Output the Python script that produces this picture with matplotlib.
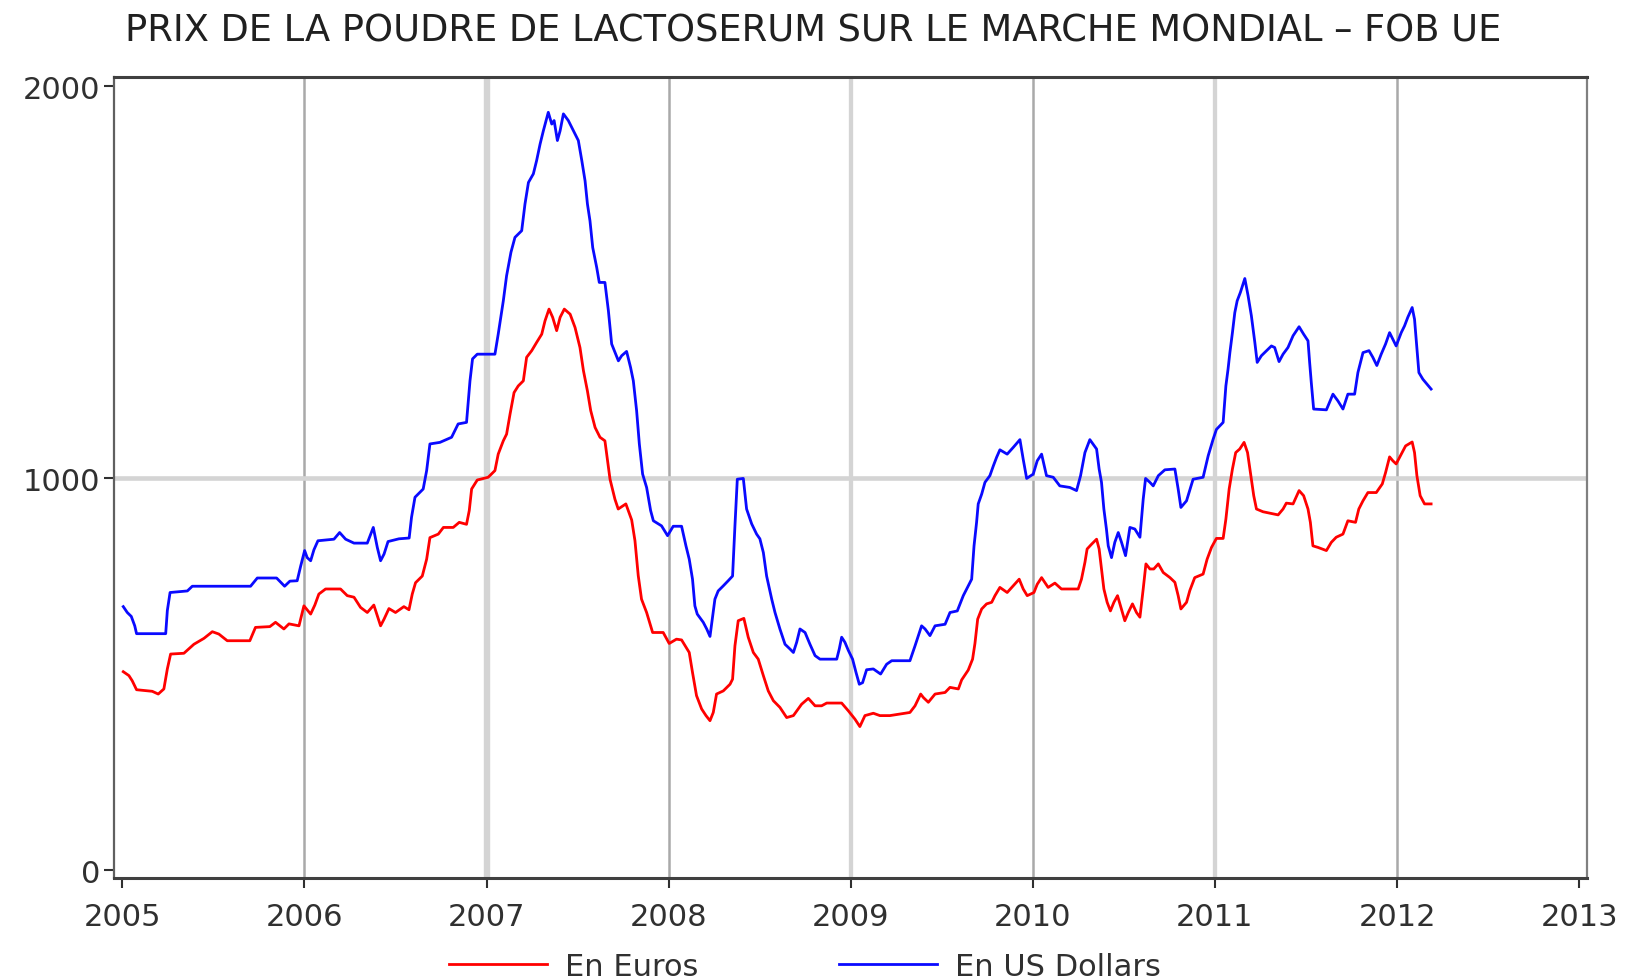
import matplotlib
matplotlib.use("Agg")
import matplotlib.pyplot as plt

# Prix de la poudre de lactoserum, FOB UE (lecture du graphique)
dollars_t = [
    2005.005, 2005.027, 2005.049, 2005.068, 2005.078, 2005.238, 2005.247, 2005.262, 2005.357, 2005.384,
    2005.704, 2005.741, 2005.847, 2005.891, 2005.920, 2005.960, 2005.979, 2006.001, 2006.015, 2006.034,
    2006.052, 2006.074, 2006.162, 2006.193, 2006.226, 2006.272, 2006.345, 2006.378, 2006.400, 2006.418,
    2006.437, 2006.459, 2006.519, 2006.575, 2006.588, 2006.607, 2006.652, 2006.671, 2006.689, 2006.744,
    2006.808, 2006.844, 2006.890, 2006.909, 2006.923, 2006.949, 2007.046, 2007.064, 2007.092, 2007.110,
    2007.134, 2007.156, 2007.193, 2007.211, 2007.230, 2007.257, 2007.275, 2007.294, 2007.312, 2007.339,
    2007.358, 2007.371, 2007.389, 2007.404, 2007.422, 2007.449, 2007.477, 2007.504, 2007.523, 2007.541,
    2007.554, 2007.568, 2007.583, 2007.605, 2007.619, 2007.650, 2007.669, 2007.687, 2007.705, 2007.724,
    2007.742, 2007.769, 2007.791, 2007.806, 2007.824, 2007.839, 2007.857, 2007.879, 2007.901, 2007.916,
    2007.961, 2007.994, 2008.025, 2008.071, 2008.095, 2008.113, 2008.131, 2008.144, 2008.157, 2008.190,
    2008.209, 2008.227, 2008.254, 2008.272, 2008.300, 2008.327, 2008.351, 2008.364, 2008.377, 2008.410,
    2008.428, 2008.456, 2008.483, 2008.501, 2008.520, 2008.538, 2008.566, 2008.584, 2008.611, 2008.639,
    2008.666, 2008.685, 2008.703, 2008.721, 2008.749, 2008.776, 2008.804, 2008.831, 2008.923, 2008.937,
    2008.950, 2008.968, 2008.987, 2009.010, 2009.029, 2009.047, 2009.065, 2009.087, 2009.124, 2009.164,
    2009.197, 2009.225, 2009.325, 2009.353, 2009.389, 2009.408, 2009.435, 2009.463, 2009.518, 2009.545,
    2009.585, 2009.618, 2009.645, 2009.664, 2009.677, 2009.691, 2009.700, 2009.719, 2009.737, 2009.764,
    2009.783, 2009.801, 2009.819, 2009.859, 2009.892, 2009.929, 2009.947, 2009.966, 2010.002, 2010.024,
    2010.048, 2010.075, 2010.112, 2010.148, 2010.203, 2010.240, 2010.262, 2010.286, 2010.313, 2010.350,
    2010.364, 2010.377, 2010.390, 2010.404, 2010.414, 2010.432, 2010.450, 2010.469, 2010.487, 2010.509,
    2010.533, 2010.560, 2010.588, 2010.606, 2010.619, 2010.643, 2010.661, 2010.689, 2010.725, 2010.780,
    2010.798, 2010.813, 2010.844, 2010.880, 2010.935, 2010.963, 2010.990, 2011.008, 2011.045, 2011.060,
    2011.072, 2011.082, 2011.096, 2011.109, 2011.122, 2011.140, 2011.164, 2011.182, 2011.200, 2011.219,
    2011.232, 2011.255, 2011.310, 2011.328, 2011.352, 2011.374, 2011.401, 2011.429, 2011.462, 2011.487,
    2011.511, 2011.520, 2011.529, 2011.542, 2011.612, 2011.648, 2011.675, 2011.703, 2011.730, 2011.767,
    2011.785, 2011.813, 2011.846, 2011.867, 2011.889, 2011.913, 2011.937, 2011.959, 2011.995, 2012.023,
    2012.041, 2012.059, 2012.083, 2012.096, 2012.105, 2012.120, 2012.142, 2012.187,
]
dollars_v = [
    672, 657, 647, 623, 603, 603, 662, 708, 712, 724,
    724, 745, 745, 724, 737, 738, 775, 815, 797, 789,
    817, 840, 844, 861, 844, 834, 834, 874, 823, 789,
    806, 838, 845, 847, 900, 951, 972, 1019, 1087, 1091,
    1104, 1138, 1142, 1248, 1304, 1316, 1316, 1367, 1452, 1516,
    1576, 1614, 1631, 1699, 1754, 1776, 1810, 1852, 1886, 1933,
    1903, 1912, 1861, 1886, 1929, 1912, 1886, 1861, 1810, 1758,
    1699, 1656, 1588, 1537, 1499, 1499, 1427, 1342, 1321, 1299,
    1312, 1323, 1282, 1248, 1172, 1087, 1010, 976, 917, 891,
    878, 853, 877, 877, 827, 793, 742, 674, 653, 632,
    615, 596, 691, 712, 725, 738, 750, 878, 997, 999,
    921, 883, 857, 845, 810, 750, 691, 657, 615, 576,
    564, 555, 581, 615, 606, 576, 547, 538, 538, 564,
    594, 581, 560, 538, 504, 474, 478, 511, 513, 500,
    525, 534, 534, 572, 623, 615, 598, 623, 627, 657,
    661, 700, 725, 742, 827, 887, 934, 959, 989, 1006,
    1031, 1053, 1072, 1061, 1078, 1098, 1048, 999, 1010, 1044,
    1061, 1006, 1002, 980, 976, 968, 1006, 1065, 1098, 1074,
    1023, 989, 921, 870, 827, 797, 836, 861, 836, 802,
    874, 870, 849, 946, 999, 989, 980, 1006, 1021, 1023,
    972, 925, 942, 997, 1002, 1057, 1099, 1124, 1142, 1235,
    1278, 1320, 1371, 1422, 1452, 1474, 1509, 1465, 1414, 1346,
    1295, 1312, 1337, 1333, 1297, 1316, 1333, 1363, 1386, 1367,
    1350, 1295, 1244, 1176, 1174, 1214, 1197, 1176, 1214, 1214,
    1269, 1320, 1325, 1308, 1287, 1316, 1342, 1371, 1337, 1371,
    1388, 1410, 1435, 1405, 1354, 1269, 1252, 1227,
]

euros_t = [
    2005.005, 2005.036, 2005.054, 2005.078, 2005.164, 2005.197, 2005.228, 2005.247, 2005.265, 2005.338,
    2005.393, 2005.448, 2005.494, 2005.530, 2005.576, 2005.700, 2005.731, 2005.810, 2005.841, 2005.887,
    2005.915, 2005.970, 2005.997, 2006.034, 2006.057, 2006.079, 2006.116, 2006.198, 2006.235, 2006.272,
    2006.308, 2006.345, 2006.381, 2006.418, 2006.437, 2006.464, 2006.500, 2006.546, 2006.574, 2006.592,
    2006.610, 2006.647, 2006.671, 2006.689, 2006.735, 2006.763, 2006.817, 2006.850, 2006.890, 2006.905,
    2006.918, 2006.949, 2007.009, 2007.046, 2007.064, 2007.092, 2007.110, 2007.129, 2007.151, 2007.174,
    2007.202, 2007.220, 2007.248, 2007.275, 2007.303, 2007.321, 2007.343, 2007.363, 2007.385, 2007.404,
    2007.427, 2007.459, 2007.486, 2007.513, 2007.532, 2007.554, 2007.572, 2007.596, 2007.623, 2007.650,
    2007.678, 2007.705, 2007.723, 2007.765, 2007.797, 2007.815, 2007.833, 2007.851, 2007.879, 2007.912,
    2007.970, 2008.003, 2008.043, 2008.071, 2008.113, 2008.131, 2008.153, 2008.181, 2008.205, 2008.227,
    2008.245, 2008.263, 2008.300, 2008.337, 2008.351, 2008.364, 2008.382, 2008.413, 2008.437, 2008.465,
    2008.492, 2008.520, 2008.547, 2008.575, 2008.611, 2008.648, 2008.685, 2008.730, 2008.767, 2008.804,
    2008.840, 2008.868, 2008.950, 2008.987, 2009.023, 2009.050, 2009.078, 2009.124, 2009.160, 2009.215,
    2009.325, 2009.353, 2009.384, 2009.399, 2009.426, 2009.463, 2009.518, 2009.545, 2009.591, 2009.609,
    2009.645, 2009.669, 2009.682, 2009.697, 2009.719, 2009.746, 2009.774, 2009.792, 2009.819, 2009.859,
    2009.892, 2009.925, 2009.947, 2009.969, 2010.006, 2010.024, 2010.048, 2010.084, 2010.121, 2010.157,
    2010.249, 2010.267, 2010.286, 2010.298, 2010.322, 2010.350, 2010.364, 2010.377, 2010.390, 2010.408,
    2010.426, 2010.445, 2010.465, 2010.481, 2010.505, 2010.524, 2010.547, 2010.569, 2010.588, 2010.606,
    2010.621, 2010.643, 2010.664, 2010.689, 2010.716, 2010.753, 2010.780, 2010.798, 2010.813, 2010.844,
    2010.862, 2010.889, 2010.935, 2010.957, 2010.981, 2011.008, 2011.045, 2011.060, 2011.078, 2011.096,
    2011.114, 2011.136, 2011.160, 2011.179, 2011.195, 2011.213, 2011.228, 2011.264, 2011.347, 2011.374,
    2011.392, 2011.429, 2011.462, 2011.487, 2011.511, 2011.524, 2011.538, 2011.566, 2011.612, 2011.639,
    2011.666, 2011.703, 2011.730, 2011.772, 2011.790, 2011.813, 2011.840, 2011.886, 2011.919, 2011.937,
    2011.959, 2011.977, 2011.995, 2012.023, 2012.047, 2012.083, 2012.096, 2012.109, 2012.127, 2012.151,
    2012.187,
]
euros_v = [
    506, 496, 483, 460, 456, 449, 462, 513, 551, 553,
    576, 591, 608, 602, 585, 585, 619, 621, 632, 615,
    628, 623, 674, 653, 676, 704, 717, 717, 700, 696,
    670, 657, 676, 623, 640, 667, 657, 672, 664, 704,
    733, 750, 793, 848, 857, 874, 874, 887, 882, 917,
    972, 995, 1002, 1019, 1061, 1095, 1112, 1163, 1218, 1235,
    1248, 1308, 1325, 1346, 1367, 1401, 1431, 1410, 1376, 1410,
    1431, 1418, 1384, 1333, 1274, 1222, 1172, 1129, 1104, 1095,
    997, 946, 921, 934, 893, 840, 751, 691, 657, 606,
    606, 578, 589, 587, 555, 504, 445, 411, 394, 381,
    402, 449, 457, 474, 487, 572, 636, 642, 594, 555,
    538, 496, 457, 432, 415, 389, 394, 423, 438, 419,
    419, 426, 426, 406, 385, 366, 394, 400, 394, 394,
    402, 419, 449, 440, 428, 449, 453, 466, 462, 485,
    510, 538, 578, 640, 666, 679, 683, 700, 721, 708,
    725, 742, 717, 700, 708, 729, 746, 721, 732, 717,
    717, 742, 785, 819, 831, 844, 819, 768, 717, 683,
    661, 683, 700, 674, 636, 657, 679, 657, 645, 717,
    781, 768, 768, 781, 759, 746, 734, 700, 666, 683,
    713, 746, 755, 793, 823, 846, 846, 895, 972, 1023,
    1065, 1074, 1091, 1065, 1014, 955, 921, 914, 906, 921,
    936, 934, 968, 955, 921, 887, 827, 823, 815, 836,
    849, 857, 891, 887, 921, 942, 963, 963, 985, 1014,
    1054, 1044, 1036, 1061, 1082, 1092, 1065, 1006, 955, 934,
    934,
]

years = [2005, 2006, 2007, 2008, 2009, 2010, 2011, 2012, 2013]
y_ticks = [0, 1000, 2000]
title = "PRIX DE LA POUDRE DE LACTOSERUM SUR LE MARCHE MONDIAL \u2013 FOB UE"

plt.rcParams['font.family'] = ['DejaVu Sans']

fig = plt.figure(figsize=(16.26, 9.79), dpi=100)
ax = fig.add_axes([0.0701, 0.1021, 0.9059, 0.8182])

# vertical grid: even years darker/thin, odd years light/thick (as in the original)
for yr in years[1:-1]:
    if yr % 2 == 0:
        ax.axvline(yr, color='#a9a9a9', lw=1.8, zorder=0)
    else:
        ax.axvline(yr, color='#d4d4d4', lw=4.6 if yr == 2007 else 3.1, zorder=0)
ax.axhline(1000, color='#d4d4d4', lw=3.3, zorder=0)

l1, = ax.plot(euros_t, euros_v, color='#ff0000', lw=2.0, label='En Euros')
l2, = ax.plot(dollars_t, dollars_v, color='#0a0aff', lw=2.0, label='En US Dollars')

ax.set_xlim(2004.954, 2013.043)
ax.set_ylim(-20.4, 2023)
ax.set_xticks(years)
ax.set_xticklabels([str(y) for y in years])
ax.set_yticks(y_ticks)
ax.set_yticklabels([str(v) for v in y_ticks])
ax.tick_params(axis='both', labelsize=22, colors='#303030', length=7, width=1.5, direction='out')
ax.tick_params(axis='x', pad=10)
ax.tick_params(axis='y', pad=3)

ax.spines['bottom'].set_color('#404040')
ax.spines['bottom'].set_linewidth(2.2)
ax.spines['top'].set_color('#404040')
ax.spines['top'].set_linewidth(2.2)
ax.spines['left'].set_color('#606060')
ax.spines['left'].set_linewidth(1.6)
ax.spines['right'].set_color('#808080')
ax.spines['right'].set_linewidth(1.6)

fig.text(0.5, 0.968, title, ha='center', va='center', fontsize=26.5, color='#202020')

fig.legend(handles=[l1, l2], loc='center', bbox_to_anchor=(0.495, 0.012), ncol=2, frameon=False,
           fontsize=22, handlelength=3.2, handletextpad=0.6, columnspacing=4.6,
           labelcolor='#303030')

fig.savefig('out.png', dpi=100)
